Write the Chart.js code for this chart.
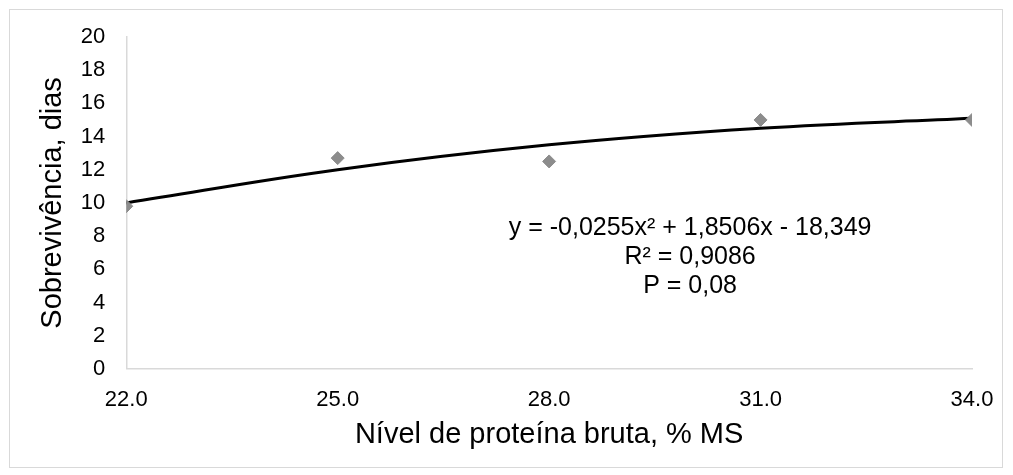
<!DOCTYPE html>
<html>
<head>
<meta charset="utf-8">
<script src="https://cdn.jsdelivr.net/npm/chart.js@4"></script>
<style>
  html, body { margin: 0; padding: 0; background: #fff; }
  #frame { position: absolute; left: 9px; top: 9px; width: 994px; height: 459px; border: 1px solid #d9d9d9; box-sizing: border-box; }
  #wrap { position: absolute; left: 0; top: 0; width: 1013px; height: 475px; }
</style>
</head>
<body>
<div id="frame"></div>
<div id="wrap"><canvas id="c" width="1013" height="475"></canvas></div>
<script>
// Observed data
const proteinLevels = [22, 25, 28, 31, 34];
const survivalDays = [9.8, 12.7, 12.5, 15.0, 15.0];
// Trend line
const trendX = [22, 25, 28, 31, 34];
const trendY = [10.0, 12.0, 13.5, 14.5, 15.1];
// Axis ticks
const xTicks = [22, 25, 28, 31, 34];
const yMin = 0, yMax = 20, yStep = 2;
// Equation label
const equationLines = ["y = -0,0255x² + 1,8506x - 18,349", "R² = 0,9086", "P = 0,08"];
const equationAnchor = { x: 30.0, y: 8.5 };

const FONT = "'Liberation Sans', Arial, Helvetica, sans-serif";

const eqPlugin = {
  id: 'eq',
  afterDatasetsDraw(chart) {
    const ctx = chart.ctx;
    const xs = chart.scales.x, ys = chart.scales.y;
    const cx = xs.getPixelForValue(equationAnchor.x);
    const cy = ys.getPixelForValue(equationAnchor.y);
    ctx.save();
    ctx.font = "25px " + FONT;
    ctx.fillStyle = "#000";
    ctx.textAlign = "center";
    ctx.textBaseline = "middle";
    equationLines.forEach((t, i) => ctx.fillText(t, cx, cy + i * 29));
    ctx.restore();
  }
};

new Chart(document.getElementById('c'), {
  type: 'scatter',
  data: {
    datasets: [
      {
        type: 'line',
        data: trendX.map((x, i) => ({ x, y: trendY[i] })),
        borderColor: '#000',
        borderWidth: 3,
        pointRadius: 0,
        tension: 0.4,
        fill: false,
        order: 2
      },
      {
        data: proteinLevels.map((x, i) => ({ x, y: survivalDays[i] })),
        backgroundColor: '#8c8c8c',
        borderColor: '#8c8c8c',
        pointStyle: 'rectRot',
        pointRadius: 6.5,
        order: 1
      }
    ]
  },
  options: {
    responsive: false,
    animation: false,
    layout: { padding: { left: 32, right: 41, top: 37, bottom: 19 } },
    plugins: { legend: { display: false }, tooltip: { enabled: false } },
    scales: {
      x: {
        type: 'linear',
        min: 22, max: 34,
        afterBuildTicks(axis) { axis.ticks = xTicks.map(v => ({ value: v })); },
        ticks: { font: { size: 22, family: FONT }, color: '#000', padding: 18, callback: v => Number(v).toFixed(1), maxRotation: 0 },
        grid: { display: false, drawTicks: false },
        border: { color: '#d9d9d9', width: 1.5 },
        title: { display: true, text: 'Nível de proteína bruta, % MS', font: { size: 29, family: FONT }, color: '#000', padding: { top: -14, bottom: 4 } }
      },
      y: {
        min: yMin, max: yMax,
        ticks: { stepSize: yStep, font: { size: 22, family: FONT }, color: '#000', padding: 21 },
        grid: { display: false, drawTicks: false },
        border: { color: '#d9d9d9', width: 1.5 },
        title: { display: true, text: 'Sobrevivência, dias', font: { size: 29, family: FONT }, color: '#000', padding: { top: 4, bottom: -11 } }
      }
    }
  },
  plugins: [eqPlugin]
});
</script>
</body>
</html>
